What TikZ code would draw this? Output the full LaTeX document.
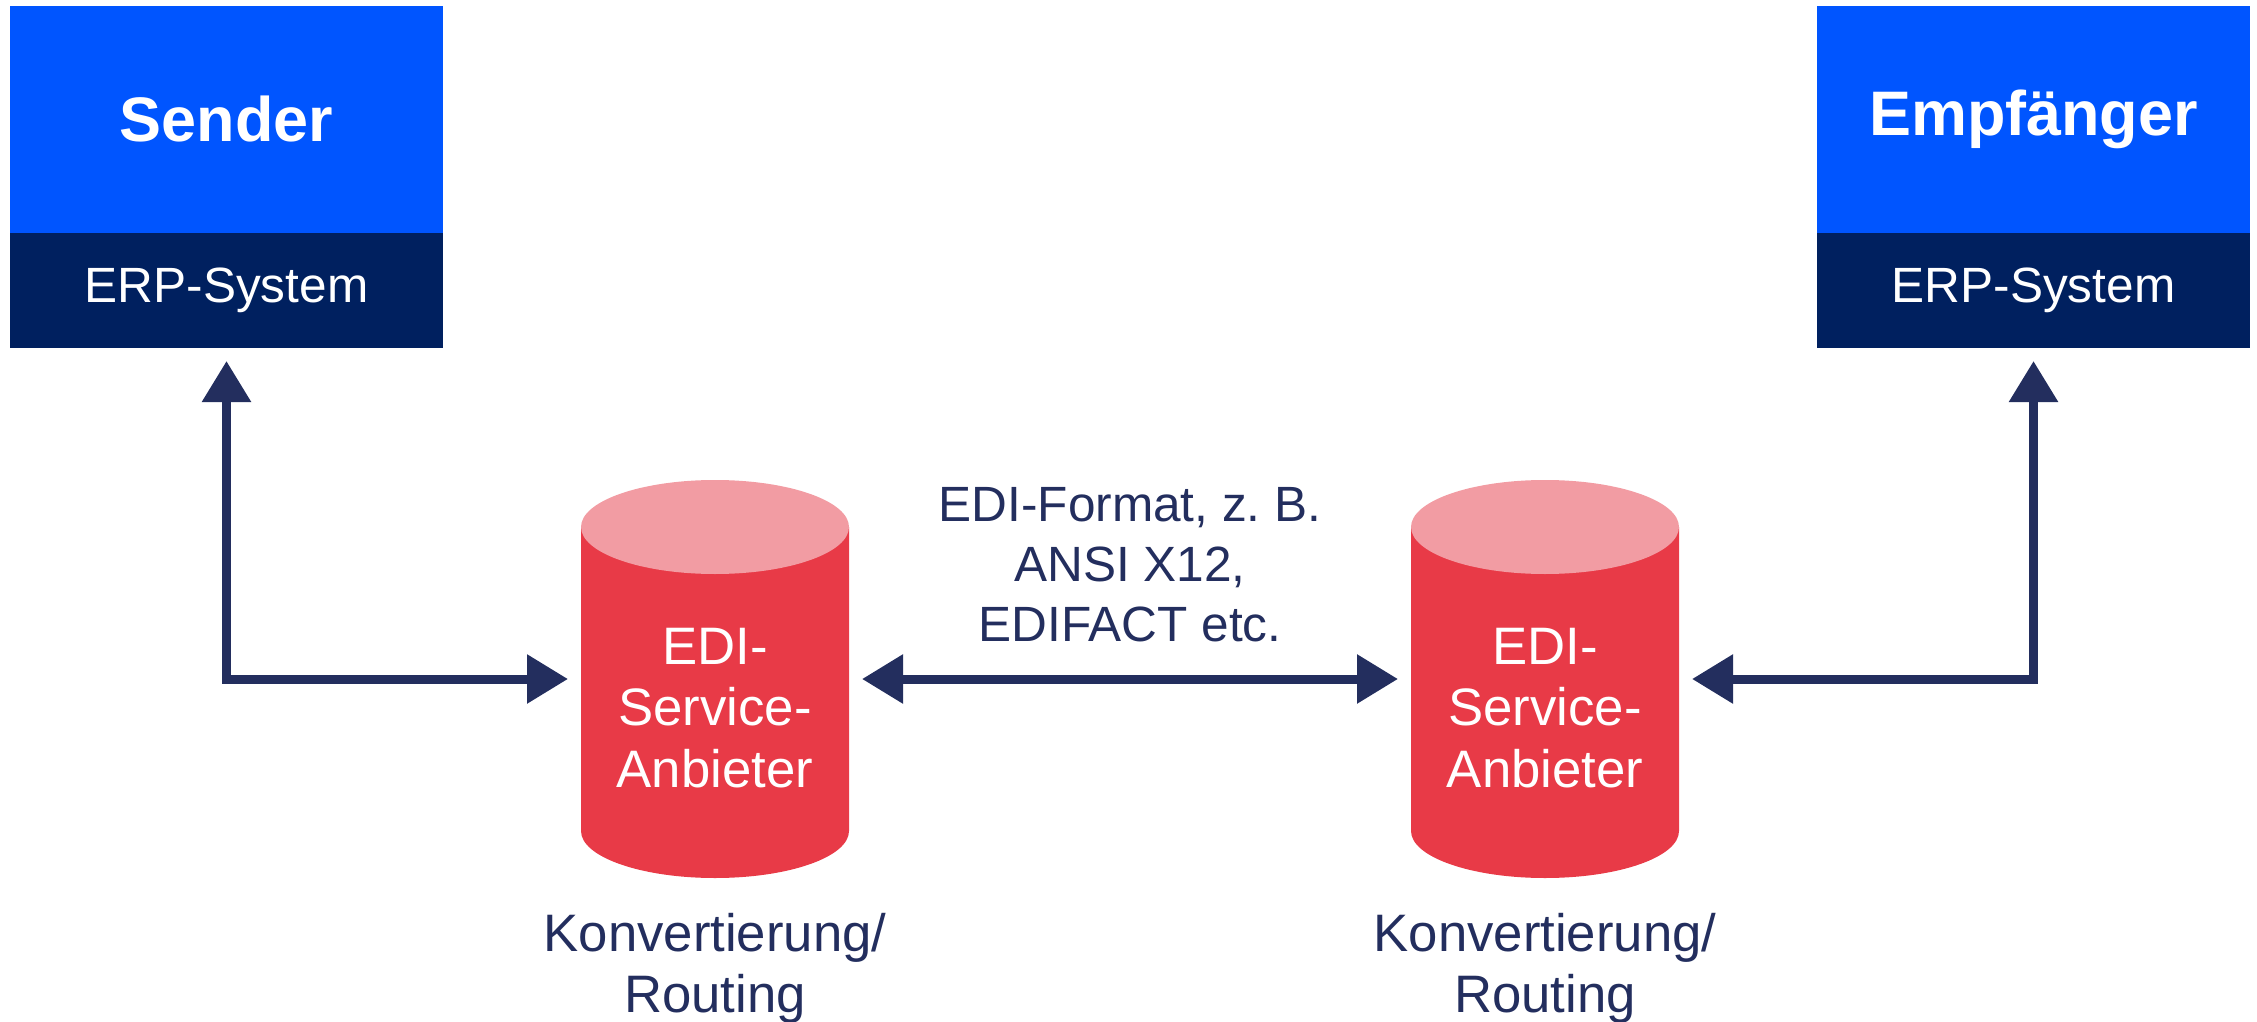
\documentclass[tikz,border=0pt]{standalone}
\usepackage{fontspec}
\setmainfont{Liberation Sans}
\usepackage{tikz}
\usetikzlibrary{positioning,arrows.meta}

\definecolor{sendblue}{HTML}{0055FF}
\definecolor{erpnavy}{HTML}{00205F}
\definecolor{linenavy}{HTML}{232E5E}
\definecolor{edired}{HTML}{E83A47}
\definecolor{edipink}{HTML}{F29CA3}

\begin{document}
\begin{tikzpicture}[
		>={Triangle[length=0.41cm,width=0.47cm]},
		partner/.style={fill=sendblue, text=white, minimum width=4.33cm, minimum height=2.27cm,
			inner sep=0pt, outer sep=0pt, font=\fontsize{17.9}{21}\selectfont\bfseries},
		erp/.style={fill=erpnavy, text=white, minimum width=4.33cm, minimum height=1.15cm,
			inner sep=0pt, outer sep=0pt, font=\fontsize{14.1}{17}\selectfont},
		provider/.style={minimum width=2.68cm, minimum height=3.98cm, inner sep=0pt, outer sep=0pt},
		provtext/.style={text=white, align=center, inner sep=0pt, font=\fontsize{15}{17.4}\selectfont},
		routing/.style={text=linenavy, align=center, inner sep=0pt, font=\fontsize{15}{17.1}\selectfont},
		flow/.style={<->, draw=linenavy, line width=0.09cm, shorten <=0.13cm, shorten >=0.13cm}
	]
		\useasboundingbox (0,0) rectangle (22.57,-10.22);

		\node[partner] (sender) at (2.265,-1.195) {Sender};
		\node[erp, below=0pt of sender] (erp1) {ERP-System};
		\node[partner, right=13.74cm of sender] (empf) {Empfänger};
		\node[erp, below=0pt of empf] (erp2) {ERP-System};

		\node[provider] (anb1) at (7.15,-6.79) {};
		\node[provider] (anb2) at (15.45,-6.79) {};

		% the two database drums
		\foreach \db in {anb1,anb2} {
			\fill[edired] ([yshift=-0.47cm]\db.north west) -- ([yshift=0.47cm]\db.south west)
				arc[start angle=180, end angle=360, x radius=1.34cm, y radius=0.47cm]
				-- ([yshift=-0.47cm]\db.north east) -- cycle;
			\fill[edipink] ([yshift=-0.47cm]\db.north) ellipse[x radius=1.34cm, y radius=0.47cm];
		}

		\node[provtext] (anb1txt) at ([yshift=-0.29cm]anb1.center) {EDI-\\Service-\\Anbieter};
		\node[provtext] (anb2txt) at ([yshift=-0.29cm]anb2.center) {EDI-\\Service-\\Anbieter};

		\node[routing, below=0.35cm of anb1] (rout1) {Konvertierung/\\Routing};
		\node[routing, below=0.35cm of anb2] (rout2) {Konvertierung/\\Routing};
		\node[routing, font=\fontsize{14.1}{17.1}\selectfont] (format) at (11.30,-5.65)
			{EDI-Format, z.~B.\\ANSI X12,\\EDIFACT etc.};

		\draw[flow] (erp1) |- (anb1);
		\draw[flow] (anb1) -- (anb2);
		\draw[flow] (erp2) |- (anb2);
	\end{tikzpicture}
\end{document}
